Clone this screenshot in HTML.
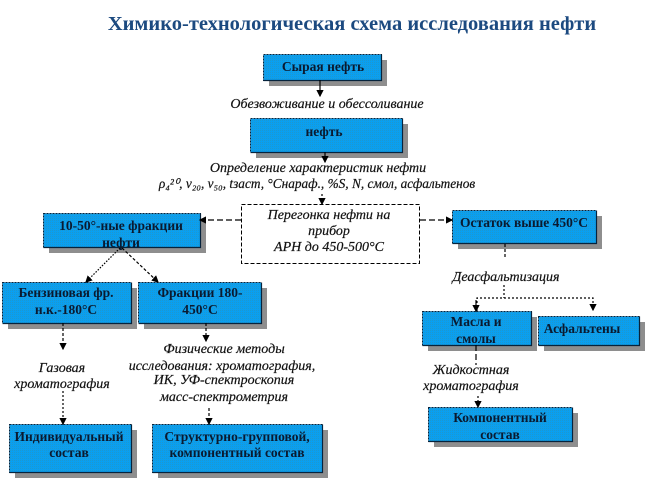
<!DOCTYPE html>
<html><head><meta charset="utf-8"><style>
html,body{margin:0;padding:0;background:#fff;width:646px;height:479px;overflow:hidden}
svg{display:block}
text{font-family:"Liberation Serif","Noto Serif CJK SC",serif;text-anchor:middle}
.b{font-weight:bold;font-size:13.5px;fill:#0a1a30}
.i{font-style:italic;font-size:14px;fill:#111;stroke:#111;stroke-width:.2px}
.l{stroke:#000;stroke-width:1.2;fill:none}
.box{fill:url(#dot);stroke:#06233c;stroke-width:1;stroke-dasharray:2 1}
.edge{fill:none;stroke:#06233c;stroke-width:1.2}
.sh{fill:#8e8e8e}
</style></head><body>
<svg width="646" height="479" viewBox="0 0 646 479" xmlns="http://www.w3.org/2000/svg">
<defs>
<pattern id="dot" width="2" height="2" patternUnits="userSpaceOnUse"><rect width="2" height="2" fill="#0a9ff0"/><rect width="1" height="1" fill="#1c98d0"/></pattern>
<marker id="a" markerWidth="6" markerHeight="6" refX="5" refY="3" orient="auto"><path d="M0,0L6,3L0,6z" fill="#000"/></marker>
</defs>
<text x="352" y="30" font-size="20.5" font-weight="bold" fill="#1c4a80">Химико-технологическая схема исследования нефти</text>

<g class="sh">
<rect x="269" y="60" width="118" height="26"/><rect x="256" y="124" width="152" height="34"/>
<rect x="49" y="219" width="157" height="34"/><rect x="8" y="288" width="129" height="41"/><rect x="144" y="288" width="123" height="41"/>
<rect x="458" y="216" width="144" height="33"/><rect x="428" y="317" width="109" height="34"/><rect x="544" y="322" width="101" height="29"/>
<rect x="15" y="430" width="122" height="48"/><rect x="158" y="430" width="170" height="48"/><rect x="434" y="413" width="144" height="34"/>
</g>
<g class="box">
<rect x="263.500" y="54.500" width="118" height="26"/><rect x="250.500" y="118.500" width="152" height="34"/>
<rect x="43.500" y="213.500" width="157" height="34"/><rect x="2.500" y="282.500" width="129" height="41"/><rect x="138.500" y="282.500" width="123" height="41"/>
<rect x="452.500" y="210.500" width="144" height="33"/><rect x="422.500" y="311.500" width="109" height="34"/><rect x="538.500" y="316.500" width="101" height="29"/>
<rect x="9.500" y="424.500" width="122" height="48"/><rect x="152.500" y="424.500" width="170" height="48"/><rect x="428.500" y="407.500" width="144" height="34"/>
</g>
<g class="edge">
<path d="M263.500 80.500H381.500V54.500"/><path d="M250.500 152.500H402.500V118.500"/>
<path d="M43.500 247.500H200.500V213.500"/><path d="M2.500 323.500H131.500V282.500"/><path d="M138.500 323.500H261.500V282.500"/>
<path d="M452.500 243.500H596.500V210.500"/><path d="M422.500 345.500H531.500V311.500"/><path d="M538.500 345.500H639.500V316.500"/>
<path d="M9.500 472.500H131.500V424.500"/><path d="M152.500 472.500H322.500V424.500"/><path d="M428.500 441.500H572.500V407.500"/>
</g>
<rect x="241.500" y="204.500" width="178" height="59" fill="#fff" stroke="#000" stroke-dasharray="4 2"/>

<g class="l">
<path d="M320 80V96" marker-end="url(#a)"/>
<path d="M325 152V162" marker-end="url(#a)"/>
<path d="M322 194V204" stroke-dasharray="2 2" marker-end="url(#a)"/>
<path d="M241 220H200" stroke-dasharray="6 3" marker-end="url(#a)"/>
<path d="M420 220H452" stroke-dasharray="6 3" marker-end="url(#a)"/>
<path d="M120 248L86 282" stroke-dasharray="1.500 1.500" marker-end="url(#a)"/>
<path d="M122 248L158 282" stroke-dasharray="3 2" marker-end="url(#a)"/>
<path d="M63 323V349" stroke-dasharray="3 2" marker-end="url(#a)"/>
<path d="M63 391V424" stroke-dasharray="2 2" marker-end="url(#a)"/>
<path d="M206 323V341" stroke-dasharray="3 2" marker-end="url(#a)"/>
<path d="M209 408V424" stroke-dasharray="3 2" marker-end="url(#a)"/>
<path d="M505 244V259" stroke-dasharray="3 2"/>
<path d="M504 285V298" stroke-dasharray="2 2"/>
<path d="M477 311V298H593V310" stroke-dasharray="2 2" marker-end="url(#a)"/>
<path d="M476 300V311" marker-end="url(#a)"/>
<path d="M476 345V365" stroke-dasharray="6 3"/>
<path d="M478 396V407" stroke-dasharray="2 2" marker-end="url(#a)"/>
</g>

<text class="b" x="323" y="71">Сырая нефть</text>
<text class="b" x="324" y="136">нефть</text>
<text class="b" x="121" y="230">10-50°-ные фракции</text>
<text class="b" x="121" y="247">нефти</text>
<text class="b" x="66" y="297">Бензиновая фр.</text>
<text class="b" x="66" y="314">н.к.-180°С</text>
<text class="b" x="200" y="297">Фракции 180-</text>
<text class="b" x="200" y="314">450°С</text>
<text class="b" x="524" y="227">Остаток выше 450°С</text>
<text class="b" x="476" y="326">Масла и</text>
<text class="b" x="476" y="343">смолы</text>
<text class="b" x="582" y="333">Асфальтены</text>
<text class="b" x="69" y="441">Индивидуальный</text>
<text class="b" x="69" y="457">состав</text>
<text class="b" x="237" y="441">Структурно-групповой,</text>
<text class="b" x="237" y="457">компонентный состав</text>
<text class="b" x="500" y="422">Компонентный</text>
<text class="b" x="500" y="439">состав</text>

<text class="i" x="327" y="108">Обезвоживание и обессоливание</text>
<text class="i" x="318" y="172">Определение характеристик нефти</text>
<text class="i" style="font-size:13.300px" x="317" y="188">ρ₄²⁰, ν₂₀, ν₅₀, tзаст, °Cнараф., %S, N, смол, асфальтенов</text>
<text class="i" x="329" y="219">Перегонка нефти на</text>
<text class="i" x="329" y="235">прибор</text>
<text class="i" x="329" y="251">АРН до 450-500°С</text>
<text class="i" x="506" y="281">Деасфальтизация</text>
<text class="i" x="62" y="372">Газовая</text>
<text class="i" x="62" y="388">хроматография</text>
<text class="i" x="224" y="353">Физические методы</text>
<text class="i" x="222" y="370">исследования: хроматография,</text>
<text class="i" x="224" y="384">ИК, УФ-спектроскопия</text>
<text class="i" x="224" y="401">масс-спектрометрия</text>
<text class="i" x="471" y="374">Жидкостная</text>
<text class="i" x="471" y="390">хроматография</text>
</svg>
</body></html>
